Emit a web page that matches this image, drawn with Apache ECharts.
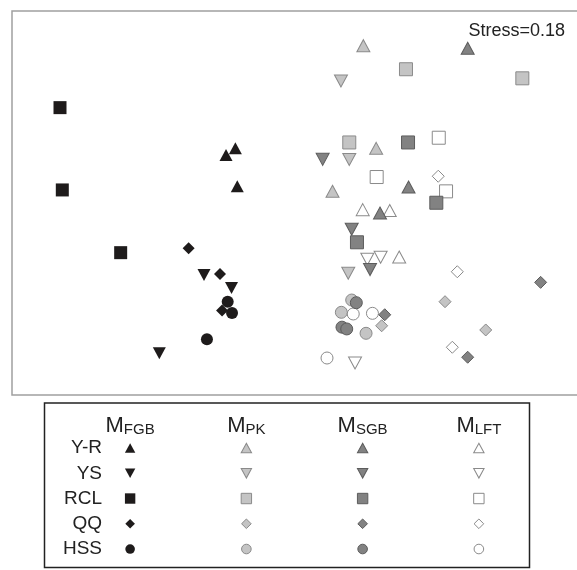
<!DOCTYPE html>
<html>
<head>
<meta charset="utf-8">
<script src="https://cdn.jsdelivr.net/npm/echarts@6/dist/echarts.min.js"></script>
<style>
html,body{margin:0;padding:0;background:#fff;}
#chart{width:577px;height:570px;}
</style>
</head>
<body>
<div id="chart"></div>
<script>
// ---- categories ----
const groups = ['FGB', 'PK', 'SGB', 'LFT'];
const sites = ['Y-R', 'YS', 'RCL', 'QQ', 'HSS'];
const stressLabel = 'Stress=0.18';

// ---- NMDS scores (axis1, axis2) per group and site ----
const FGB_YR  = [[-0.528, 0.375], [-0.455, 0.427], [-0.440, 0.130]];
const FGB_YS  = [[-0.700, -0.563], [-0.485, -0.664], [-1.049, -1.174]];
const FGB_RCL = [[-1.825, 0.745], [-1.807, 0.102], [-1.351, -0.388]];
const FGB_QQ  = [[-0.820, -0.354], [-0.575, -0.555], [-0.559, -0.840]];
const FGB_HSS = [[-0.515, -0.771], [-0.481, -0.859], [-0.677, -1.065]];

const PK_YR  = [[0.545, 1.229], [0.645, 0.427], [0.304, 0.092]];
const PK_YS  = [[0.370, 0.953], [0.435, 0.340], [0.427, -0.549]];
const PK_RCL = [[0.878, 1.045], [1.787, 0.974], [0.435, 0.473]];
const PK_QQ  = [[1.183, -0.771], [0.688, -0.959], [1.501, -0.992]];
const PK_HSS = [[0.454, -0.758], [0.373, -0.854], [0.566, -1.018]];

const SGB_YR  = [[1.360, 1.209], [0.898, 0.125], [0.675, -0.078]];
const SGB_YS  = [[0.227, 0.341], [0.454, -0.205], [0.597, -0.520]];
const SGB_RCL = [[0.894, 0.473], [1.115, 0.002], [0.495, -0.307]];
const SGB_QQ  = [[1.930, -0.620], [0.712, -0.873], [1.360, -1.205]];
const SGB_HSS = [[0.490, -0.779], [0.378, -0.970], [0.415, -0.984]];

const LFT_YR  = [[0.540, -0.052], [0.751, -0.059], [0.825, -0.422]];
const LFT_YS  = [[0.576, -0.439], [0.680, -0.424], [0.480, -1.250]];
const LFT_RCL = [[1.134, 0.510], [0.649, 0.203], [1.191, 0.091]];
const LFT_QQ  = [[1.130, 0.209], [1.279, -0.537], [1.240, -1.127]];
const LFT_HSS = [[0.466, -0.867], [0.616, -0.862], [0.261, -1.211]];

const dataByGroup = {
  FGB: [FGB_YR, FGB_YS, FGB_RCL, FGB_QQ, FGB_HSS],
  PK:  [PK_YR, PK_YS, PK_RCL, PK_QQ, PK_HSS],
  SGB: [SGB_YR, SGB_YS, SGB_RCL, SGB_QQ, SGB_HSS],
  LFT: [LFT_YR, LFT_YS, LFT_RCL, LFT_QQ, LFT_HSS]
};

// ---- styles ----
const FONT = '"Liberation Sans", Arial, Helvetica, sans-serif';
const groupStyle = {
  FGB: { color: '#1e1b1b', borderColor: '#1e1b1b', borderWidth: 0 },
  PK:  { color: '#c4c4c4', borderColor: '#8a8a8a', borderWidth: 1 },
  SGB: { color: '#828282', borderColor: '#5c5c5c', borderWidth: 1 },
  LFT: { color: '#ffffff', borderColor: '#8a8a8a', borderWidth: 1 }
};
const siteSymbol = [
  { symbol: 'triangle', size: [13, 12], rotate: 0 },
  { symbol: 'triangle', size: [13, 12], rotate: 180 },
  { symbol: 'rect', size: 13, rotate: 0 },
  { symbol: 'diamond', size: 12, rotate: 0 },
  { symbol: 'circle', size: 12, rotate: 0 }
];
const legendScale = 0.8;
function scaleSize(s, k) { return Array.isArray(s) ? s.map(v => v * k) : s * k; }

const drawOrder = ['FGB', 'PK', 'LFT', 'SGB'];
const series = [];
drawOrder.forEach(g => {
  sites.forEach((s, si) => {
    const sym = siteSymbol[si];
    series.push({
      type: 'scatter', name: g + ' ' + s,
      xAxisIndex: 0, yAxisIndex: 0,
      symbol: sym.symbol, symbolSize: sym.size, symbolRotate: sym.rotate,
      itemStyle: Object.assign({ opacity: 1 }, groupStyle[g]),
      data: dataByGroup[g][si],
      silent: true
    });
  });
});
// legend key (second grid, category axes)
groups.forEach(g => {
  series.push({
    type: 'scatter', name: 'key ' + g,
    xAxisIndex: 1, yAxisIndex: 1,
    itemStyle: Object.assign({ opacity: 1 }, groupStyle[g]),
    data: sites.map((s, si) => ({
      value: [g, s],
      symbol: siteSymbol[si].symbol,
      symbolSize: scaleSize(siteSymbol[si].size, legendScale),
      symbolRotate: siteSymbol[si].rotate
    })),
    silent: true
  });
});

const chart = echarts.init(document.getElementById('chart'), null, { renderer: 'canvas' });
chart.setOption({
  animation: false,
  backgroundColor: '#ffffff',
  title: {
    text: stressLabel, right: 7, top: 17,
    textStyle: { fontFamily: FONT, fontSize: 18, fontWeight: 'normal', color: '#222' }
  },
  grid: [
    { left: 12, top: 11, width: 569.6, height: 384, show: true, borderColor: '#a0a0a0', borderWidth: 1.5,
      backgroundColor: 'transparent', containLabel: false, outerBoundsMode: 'none' },
    { left: 72, top: 435.4, width: 465, height: 126.25, show: false, containLabel: false, outerBoundsMode: 'none' }
  ],
  xAxis: [
    { type: 'value', gridIndex: 0, min: -2.2, max: 2.25, show: false },
    {
      type: 'category', gridIndex: 1, data: groups, position: 'top',
      axisLine: { show: false }, axisTick: { show: false }, splitLine: { show: false },
      axisLabel: {
        margin: -2,
        formatter: v => '{m|M}{s|' + v + '}',
        rich: {
          m: { fontFamily: FONT, fontSize: 22, color: '#222', lineHeight: 24, verticalAlign: 'bottom' },
          s: { fontFamily: FONT, fontSize: 15, color: '#222', lineHeight: 14, verticalAlign: 'bottom' }
        }
      }
    }
  ],
  yAxis: [
    { type: 'value', gridIndex: 0, min: -1.5, max: 1.5, show: false },
    {
      type: 'category', gridIndex: 1, data: sites, inverse: true, offset: -38,
      axisLine: { show: false }, axisTick: { show: false }, splitLine: { show: false },
      axisLabel: { margin: 8, fontFamily: FONT, fontSize: 19, color: '#222' }
    }
  ],
  graphic: [
    { type: 'rect', shape: { x: 44.5, y: 403, width: 485, height: 164.5 },
      style: { fill: 'none', stroke: '#222', lineWidth: 1.5 }, silent: true }
  ],
  series: series
});
</script>
</body>
</html>
